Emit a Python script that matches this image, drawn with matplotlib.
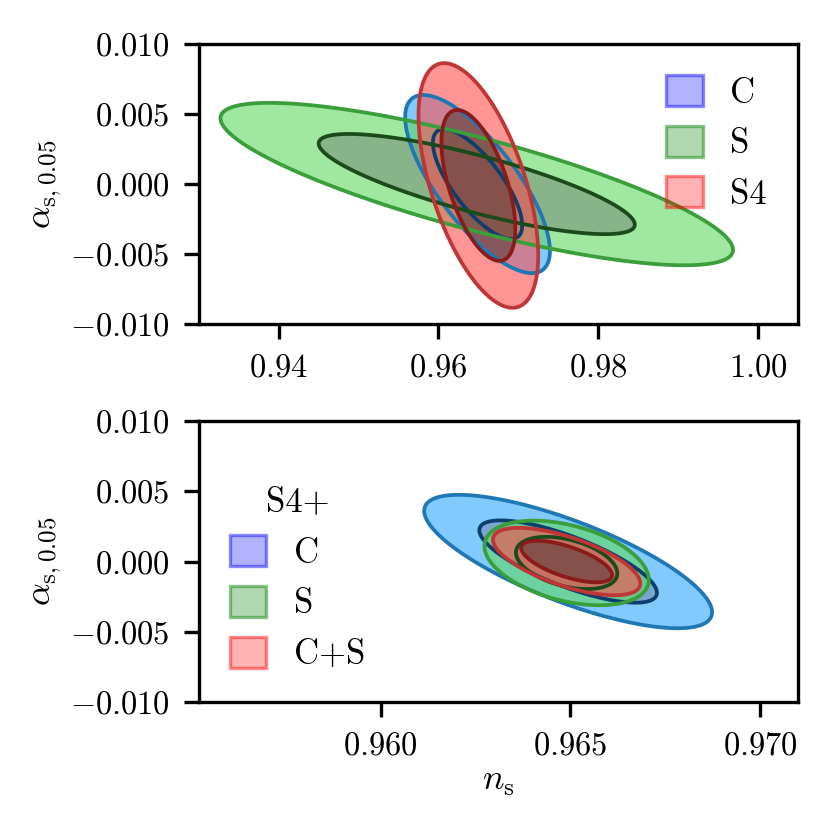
import numpy as np
import matplotlib
matplotlib.use("Agg")
import matplotlib.pyplot as plt
from matplotlib.patches import Patch

plt.rcParams['font.family'] = 'serif'
plt.rcParams['font.serif'] = ['cmr10']
plt.rcParams['mathtext.fontset'] = 'cm'
plt.rcParams['axes.unicode_minus'] = False
plt.rcParams['font.size'] = 8.3

# CONSTANTS #
LEVELS = [2.279, 5.991]   # delta chi2 for 68% / 95% in 2D
FILL_ALPHA = 0.6

# contour parameters: mean n_s, mean alpha_s, sigma n_s, sigma alpha_s, correlation
top_labels = ["C", "S", "S4"]
top_mean_ns = [0.9649, 0.9648, 0.9650]
top_mean_as = [0.0000, 0.0000, -0.0001]
top_sig_ns = [0.0037, 0.0131, 0.00306]
top_sig_as = [0.0026, 0.00237, 0.00357]
top_rho = [-0.75, -0.81, -0.57]

bot_title = "S4+"
bot_labels = ["C", "S", "C+S"]
bot_mean_ns = [0.96494, 0.9649, 0.9649]
bot_mean_as = [0.0000, -0.0001, 0.0000]
bot_sig_ns = [0.00155, 0.000885, 0.000793]
bot_sig_as = [0.00194, 0.00123, 0.00098]
bot_rho = [-0.76, -0.40, -0.65]

top_xticks = [0.94, 0.96, 0.98, 1.00]
top_xticklabels = ["0.94", "0.96", "0.98", "1.00"]
bot_xticks = [0.960, 0.965, 0.970]
bot_xticklabels = ["0.960", "0.965", "0.970"]
yticks = [-0.010, -0.005, 0.000, 0.005, 0.010]
yticklabels = ["-0.010", "-0.005", "0.000", "0.005", "0.010"]

# outer fill, inner fill, outer edge, inner edge
styles = [
    ('#2ba7ff', '#788fb1', '#1f77b4', '#0d3f6e'),
    ('#61d961', '#7a917a', '#3a9e3a', '#1b4a1b'),
    ('#ff5050', '#5c3c3a', '#c03535', '#8b1a1a'),
]
legend_colors = ['blue', 'green', 'red']


def chi2_grid(ax, mx, my, sx, sy, rho):
    x0, x1 = ax.get_xlim()
    y0, y1 = ax.get_ylim()
    X, Y = np.meshgrid(np.linspace(x0, x1, 600), np.linspace(y0, y1, 600))
    dx = (X - mx) / sx
    dy = (Y - my) / sy
    chi2 = (dx**2 - 2*rho*dx*dy + dy**2) / (1 - rho**2)
    return X, Y, chi2


def draw_set(ax, mns, mas, sns, sas, rhos):
    for i in range(len(mns)):
        X, Y, chi2 = chi2_grid(ax, mns[i], mas[i], sns[i], sas[i], rhos[i])
        fo, fi, eo, ei = styles[i]
        ax.contourf(X, Y, chi2, levels=[0, LEVELS[1]], colors=[fo], alpha=FILL_ALPHA)
        ax.contour(X, Y, chi2, levels=[LEVELS[1]], colors=[eo], linewidths=0.9)
        ax.contourf(X, Y, chi2, levels=[0, LEVELS[0]], colors=[fi], alpha=FILL_ALPHA)
        ax.contour(X, Y, chi2, levels=[LEVELS[0]], colors=[ei], linewidths=0.9)


def handles(labels):
    return [Patch(facecolor=(*matplotlib.colors.to_rgb(c), 0.3),
                  edgecolor=(*matplotlib.colors.to_rgb(c), 0.45), linewidth=0.8, label=l)
            for c, l in zip(legend_colors, labels)]


def style_axis(ax, xticks, xticklabels):
    ax.set_xticks(xticks)
    ax.set_xticklabels(["$%s$" % t for t in xticklabels])
    ax.set_yticks(yticks)
    ax.set_yticklabels(["$%s$" % t for t in yticklabels])
    ax.set_ylim(-0.010, 0.010)
    ax.set_ylabel(r"$\alpha_{\rm s,0.05}$", fontsize=8.6)
    ax.yaxis.set_label_coords(-0.226, 0.5)
    for s in ax.spines.values():
        s.set_linewidth(0.8)
    ax.tick_params(width=0.8, length=3.5, labelsize=7.8)


fig = plt.figure(figsize=(830/300, 830/300), dpi=300)
ax1 = fig.add_axes([0.2393, 0.6096, 0.7222, 0.3373])
ax2 = fig.add_axes([0.2393, 0.1542, 0.7222, 0.3385])

leg_kw = dict(frameon=False, handlelength=1.05, handleheight=1.0, handletextpad=0.8,
              labelspacing=0.47)

ax1.set_xlim(0.930, 1.005)
ax1.set_ylim(-0.010, 0.010)
draw_set(ax1, top_mean_ns, top_mean_as, top_sig_ns, top_sig_as, top_rho)
style_axis(ax1, top_xticks, top_xticklabels)
ax1.legend(handles=handles(top_labels), loc='upper right', **leg_kw)

ax2.set_xlim(0.9552, 0.9710)
ax2.set_ylim(-0.010, 0.010)
draw_set(ax2, bot_mean_ns, bot_mean_as, bot_sig_ns, bot_sig_as, bot_rho)
style_axis(ax2, bot_xticks, bot_xticklabels)
ax2.set_xlabel(r"$n_{\rm s}$", fontsize=8.6)
ax2.xaxis.set_label_coords(0.5, -0.228)
ax2.legend(handles=handles(bot_labels), title=bot_title, loc='lower left', **leg_kw)

fig.savefig("out.png", dpi=300)
